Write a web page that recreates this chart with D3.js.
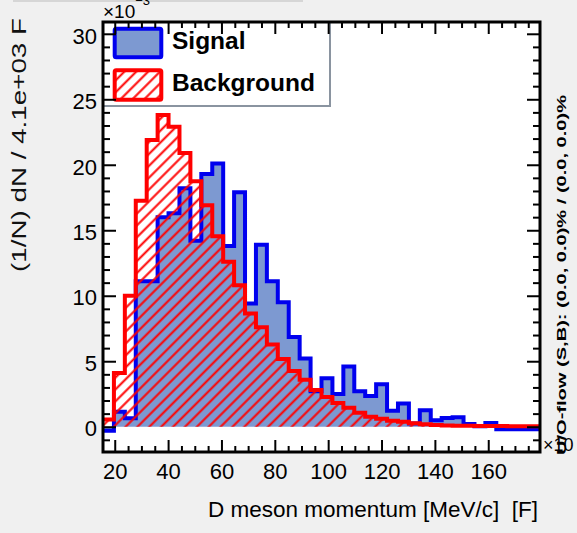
<!DOCTYPE html>
<html>
<head>
<meta charset="utf-8">
<script src="https://cdn.jsdelivr.net/npm/d3@7"></script>
<style>
  html, body { margin: 0; padding: 0; background: #f0f0f0; }
  svg { display: block; }
  text { font-family: "Liberation Sans", Arial, Helvetica, sans-serif; }
</style>
</head>
<body>
<svg id="chart" width="577" height="533"></svg>
<script>
// Histogram binning (40 equal bins)
const xMin = 15.6, xMax = 179.4, nBins = 40;
const yMin = -1.93, yMax = 30.9;

// Normalised bin contents (units of 1e-3)
const signal = [
  -0.3, 1.15, 0.65, 11.1, 11.1, 16.0, 16.3, 18.2, 14.2, 19.3,
  20.1, 13.8, 17.9, 9.4, 13.9, 11.1, 9.5, 6.85, 5.2, 2.7,
  3.7, 2.5, 4.6, 2.7, 2.35, 3.25, 1.22, 1.78, 0.25, 1.25,
  0.5, 0.66, 0.72, 0.2, 0.03, 0.28, -0.2, -0.2, -0.2, -0.2
];
const background = [
  0.55, 4.1, 10.0, 17.25, 21.9, 23.8, 22.9, 20.9, 18.75, 16.9,
  14.55, 12.6, 10.8, 8.65, 7.6, 6.27, 5.18, 4.25, 3.58, 2.8,
  2.27, 1.82, 1.44, 1.07, 0.76, 0.61, 0.46, 0.38, 0.26, 0.18,
  0.13, 0.1, 0.08, 0.07, 0.06, 0.05, 0.05, 0.04, 0.04, 0.03
];

const seriesNames = ["Signal", "Background"];
const xTickValues = [20, 40, 60, 80, 100, 120, 140, 160];
const xMinorValues = d3.range(20, 180, 5).filter(v => v % 20 !== 0);
const yTickValues = [0, 5, 10, 15, 20, 25, 30];
const yMinorValues = d3.range(-1, 31, 1).filter(v => v % 5 !== 0);

const xTitle = "D meson momentum [MeV/c]  [F]";
const yTitle = "(1/N) dN / 4.1e+03 F";
const flowText = "U/O-flow (S,B): (0.0, 0.0)% / (0.0, 0.0)%";

const sigFill = "#7d99d1", sigLine = "#0000ee", bkgLine = "#ff0000";

// Frame geometry
const L = 103, R = 540, T = 22, B = 452;

const svg = d3.select("#chart");
const x = d3.scaleLinear().domain([xMin, xMax]).range([L, R]);
const y = d3.scaleLinear().domain([yMin, yMax]).range([B, T]);
const binW = (xMax - xMin) / nBins;

// top strip
svg.append("rect").attr("x", 13).attr("y", 0).attr("width", 290).attr("height", 2).attr("fill", "#d6d6d6");

const defs = svg.append("defs");
const hatch = defs.append("pattern")
  .attr("id", "hatch").attr("patternUnits", "userSpaceOnUse")
  .attr("width", 8.4).attr("height", 8.4)
  .attr("patternTransform", "rotate(45)");
hatch.append("line")
  .attr("x1", 4.2).attr("y1", -1).attr("x2", 4.2).attr("y2", 9.4)
  .attr("stroke", bkgLine).attr("stroke-width", 2);

defs.append("clipPath").attr("id", "frameClip")
  .append("rect").attr("x", L).attr("y", T).attr("width", R - L).attr("height", B - T);

// Plot area
svg.append("rect").attr("x", L).attr("y", T).attr("width", R - L).attr("height", B - T).attr("fill", "#ffffff");

function steps(values) {
  const pts = values.map((v, i) => [xMin + i * binW, v]);
  pts.push([xMax, values[values.length - 1]]);
  return pts;
}

const area = d3.area().curve(d3.curveStepAfter)
  .x(d => x(d[0])).y0(y(0)).y1(d => y(d[1]));
const line = d3.line().curve(d3.curveStepAfter)
  .x(d => x(d[0])).y(d => y(d[1]));

const plot = svg.append("g").attr("clip-path", "url(#frameClip)");

plot.append("path").datum(steps(signal)).attr("d", area).attr("fill", sigFill);
plot.append("path").datum(steps(signal)).attr("d", line)
  .attr("fill", "none").attr("stroke", sigLine).attr("stroke-width", 4);

plot.append("path").datum(steps(background)).attr("d", area).attr("fill", "url(#hatch)");
plot.append("path").datum(steps(background)).attr("d", line)
  .attr("fill", "none").attr("stroke", bkgLine).attr("stroke-width", 4);

// Legend
const leg = svg.append("g");
leg.append("rect").attr("x", L).attr("y", T).attr("width", 227).attr("height", 84).attr("fill", "#ffffff");
leg.append("line").attr("x1", 330).attr("y1", T).attr("x2", 330).attr("y2", 106)
  .attr("stroke", "#8a94a0").attr("stroke-width", 2);
leg.append("line").attr("x1", L).attr("y1", 106).attr("x2", 331).attr("y2", 106)
  .attr("stroke", "#8a94a0").attr("stroke-width", 2);

leg.append("rect").attr("x", 114.7).attr("y", 28.7).attr("width", 46.6).attr("height", 28.6)
  .attr("fill", sigFill).attr("stroke", sigLine).attr("stroke-width", 4).attr("rx", 1.5);
leg.append("rect").attr("x", 114.7).attr("y", 70.3).attr("width", 46.6).attr("height", 29.4)
  .attr("fill", "#ffffff").attr("stroke", "none");
leg.append("rect").attr("x", 114.7).attr("y", 70.3).attr("width", 46.6).attr("height", 29.4)
  .attr("fill", "url(#hatch)").attr("stroke", bkgLine).attr("stroke-width", 4).attr("rx", 1.5);

leg.selectAll("text.entry").data(seriesNames).join("text")
  .attr("class", "entry")
  .attr("x", 172).attr("y", (d, i) => i === 0 ? 49 : 91)
  .attr("font-size", 24.5).attr("font-weight", "bold").attr("fill", "#000")
  .text(d => d);

// Axes
function styleAxis(g) {
  g.select(".domain").remove();
  g.selectAll(".tick line").attr("stroke", "#000").attr("stroke-width", 2);
}

svg.append("g").attr("transform", `translate(0,${B})`)
  .call(d3.axisBottom(x).tickValues(xTickValues).tickSize(-12).tickPadding(11))
  .call(styleAxis)
  .call(g => g.selectAll("text").attr("font-size", 22).attr("fill", "#000")
    .attr("font-family", '"Liberation Sans", Arial, sans-serif'));
svg.append("g").attr("transform", `translate(0,${B})`)
  .call(d3.axisBottom(x).tickValues(xMinorValues).tickSize(-6).tickFormat(""))
  .call(styleAxis);
svg.append("g").attr("transform", `translate(0,${T})`)
  .call(d3.axisTop(x).tickValues(xTickValues).tickSize(-12).tickFormat(""))
  .call(styleAxis);
svg.append("g").attr("transform", `translate(0,${T})`)
  .call(d3.axisTop(x).tickValues(xMinorValues).tickSize(-6).tickFormat(""))
  .call(styleAxis);

svg.append("g").attr("transform", `translate(${L},0)`)
  .call(d3.axisLeft(y).tickValues(yTickValues).tickSize(-13).tickPadding(6))
  .call(styleAxis)
  .call(g => g.selectAll("text").attr("font-size", 22).attr("fill", "#000").attr("dy", "0.42em")
    .attr("font-family", '"Liberation Sans", Arial, sans-serif'));
svg.append("g").attr("transform", `translate(${L},0)`)
  .call(d3.axisLeft(y).tickValues(yMinorValues).tickSize(-7).tickFormat(""))
  .call(styleAxis);
svg.append("g").attr("transform", `translate(${R},0)`)
  .call(d3.axisRight(y).tickValues(yTickValues).tickSize(-13).tickFormat(""))
  .call(styleAxis);
svg.append("g").attr("transform", `translate(${R},0)`)
  .call(d3.axisRight(y).tickValues(yMinorValues).tickSize(-7).tickFormat(""))
  .call(styleAxis);

// Frame
svg.append("rect").attr("x", L).attr("y", T).attr("width", R - L).attr("height", B - T)
  .attr("fill", "none").attr("stroke", "#000").attr("stroke-width", 3);

// Exponent labels
const expTop = svg.append("text").attr("x", 103).attr("y", 18).attr("font-size", 19).attr("fill", "#000");
expTop.append("tspan").text("×10");
expTop.append("tspan").attr("font-size", 13).attr("dy", -13).text("−3");

svg.append("text").attr("x", 543).attr("y", 451).attr("font-size", 18).attr("fill", "#000").text("×10");

// Titles
svg.append("text").attr("x", 538).attr("y", 517).attr("text-anchor", "end")
  .attr("font-size", 22.5).attr("fill", "#000")
  .style("white-space", "pre").attr("xml:space", "preserve")
  .text(xTitle);

svg.append("text").attr("transform", "translate(26,272) rotate(-90)")
  .attr("font-size", 21).attr("fill", "#111")
  .attr("textLength", 254).attr("lengthAdjust", "spacingAndGlyphs")
  .text(yTitle);

svg.append("text").attr("transform", "translate(566,455) rotate(-90)")
  .attr("font-size", 13).attr("font-weight", "bold").attr("fill", "#000")
  .attr("textLength", 360).attr("lengthAdjust", "spacingAndGlyphs")
  .text(flowText);
</script>
</body>
</html>
